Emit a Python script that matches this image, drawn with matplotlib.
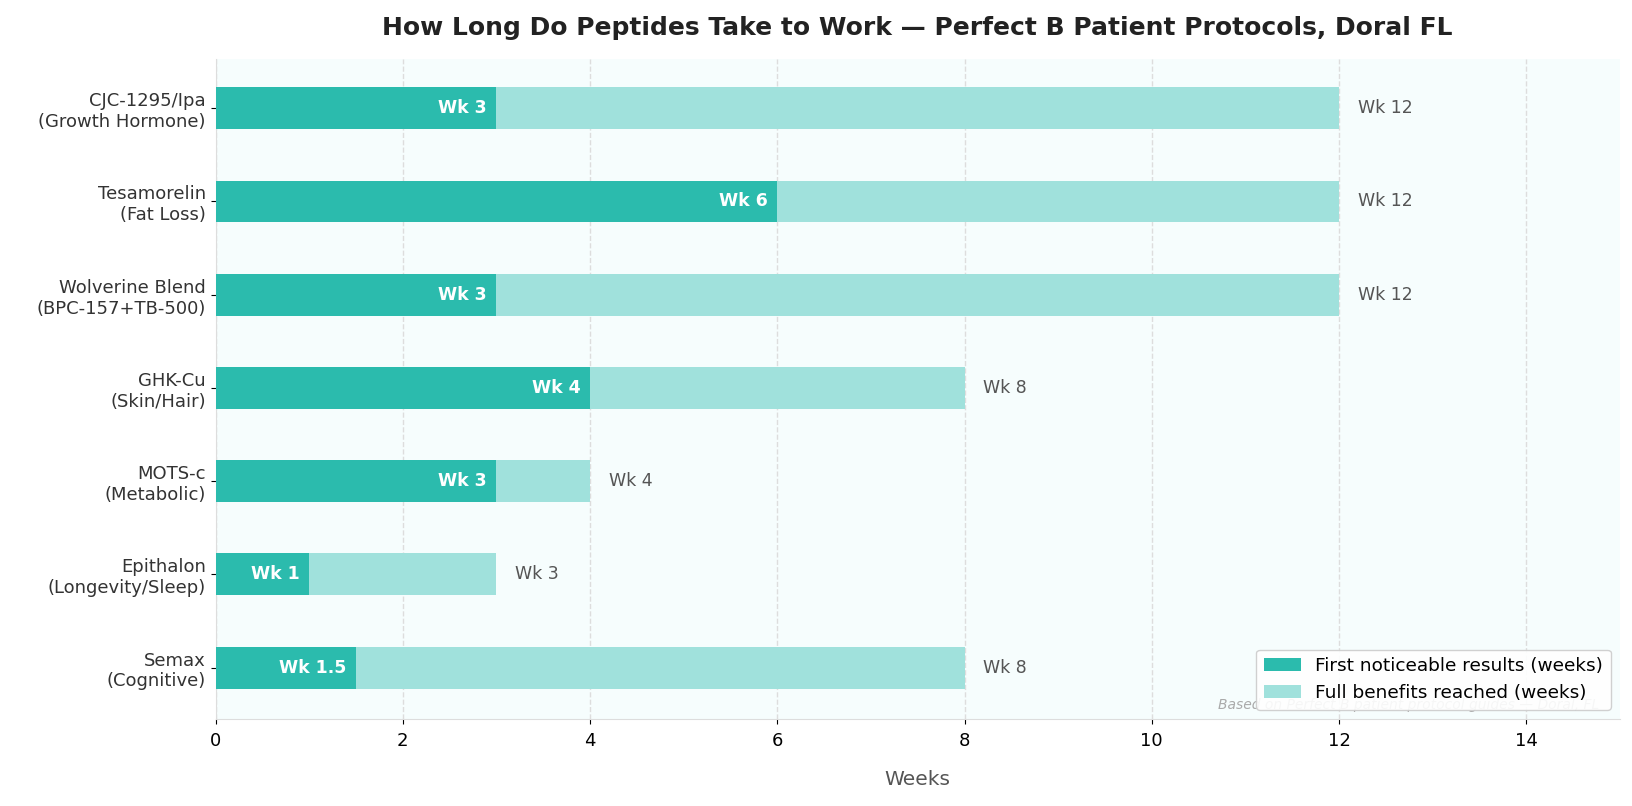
import matplotlib.pyplot as plt
import numpy as np

plt.rcParams['font.family'] = ['DejaVu Sans']

peptides = ['CJC-1295/Ipa\n(Growth Hormone)', 'Tesamorelin\n(Fat Loss)',
            'Wolverine Blend\n(BPC-157+TB-500)', 'GHK-Cu\n(Skin/Hair)',
            'MOTS-c\n(Metabolic)', 'Epithalon\n(Longevity/Sleep)', 'Semax\n(Cognitive)']
first_wk = [3, 6, 3, 4, 3, 1, 1.5]
full_wk = [12, 12, 12, 8, 4, 3, 8]
first_lbl = ['Wk 3', 'Wk 6', 'Wk 3', 'Wk 4', 'Wk 3', 'Wk 1', 'Wk 1.5']
full_lbl = ['Wk 12', 'Wk 12', 'Wk 12', 'Wk 8', 'Wk 4', 'Wk 3', 'Wk 8']

dark = '#2bbbad'
light = '#a0e1dc'

fig, ax = plt.subplots(figsize=(16.33, 8.06), dpi=100)
ax.set_facecolor('#f6fdfd')

y = np.arange(len(peptides))[::-1]
h = 0.45
ax.barh(y, full_wk, height=h, color=light, label='Full benefits reached (weeks)', zorder=2)
ax.barh(y, first_wk, height=h, color=dark, label='First noticeable results (weeks)', zorder=3)

for yi, f, fl, t, tl in zip(y, first_wk, first_lbl, full_wk, full_lbl):
    ax.text(f - 0.1, yi, fl, ha='right', va='center', color='white',
            fontsize=12.5, fontweight='bold', zorder=4)
    ax.text(t + 0.2, yi, tl, ha='left', va='center', color='#555555', fontsize=12.5, zorder=4)

ax.set_yticks(y)
ax.set_yticklabels(peptides, fontsize=13, color='#333333')
ax.set_xlim(0, 15)
ax.set_ylim(-0.55, 6.53)
ax.tick_params(axis='x', labelsize=13, pad=6)
ax.set_xlabel('Weeks', fontsize=14.5, color='#555555', labelpad=14)
ax.set_title('How Long Do Peptides Take to Work — Perfect B Patient Protocols, Doral FL',
             fontsize=18, fontweight='bold', color='#222222', pad=17)

ax.grid(axis='x', linestyle='--', color='#dddddd', linewidth=1, zorder=0)
ax.set_axisbelow(True)
for s in ['top', 'right']:
    ax.spines[s].set_visible(False)
for s in ['left', 'bottom']:
    ax.spines[s].set_color('#dddddd')

handles, labels = ax.get_legend_handles_labels()
leg = ax.legend(handles[::-1], labels[::-1], loc='lower right', fontsize=13.3, framealpha=0.9)
leg.set_zorder(6)

ax.text(0.985, 0.01, 'Based on Perfect B patient protocol guides — Doral, FL',
        transform=ax.transAxes, ha='right', va='bottom', fontsize=10,
        style='italic', color='#aaaaaa', zorder=5)

plt.subplots_adjust(left=0.132, right=0.992, top=0.927, bottom=0.108)
plt.savefig('out.png')
